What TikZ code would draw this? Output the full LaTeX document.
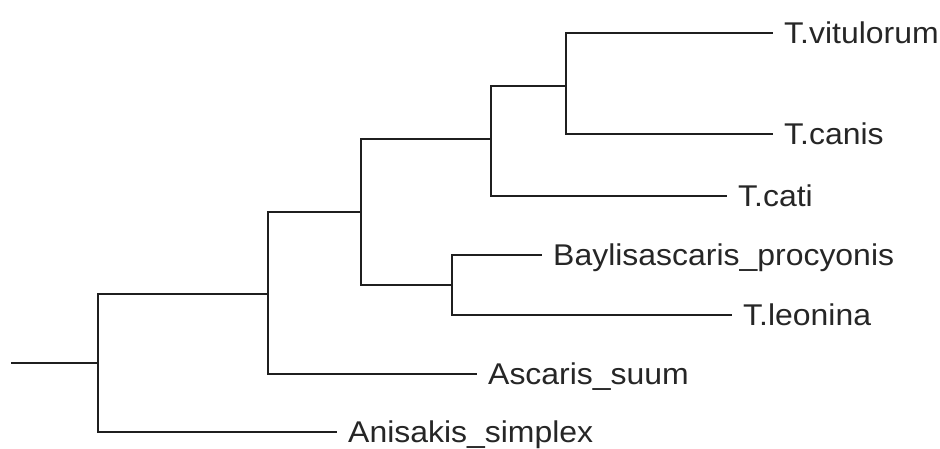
\documentclass[tikz,border=0pt]{standalone}
\usepackage{fontspec}
\setmainfont[FakeStretch=1.065]{Liberation Sans}
\begin{document}
\begin{tikzpicture}[x=1pt,y=-1pt,
  br/.style={draw=black!88,line width=2.8pt,line join=miter},
  leaf/.style={anchor=west,inner xsep=11pt,inner ysep=0pt,text height=21.5pt,text depth=0pt,
    text=black!85,font=\fontsize{30}{36}\selectfont}]
\useasboundingbox (0,0) rectangle (940,448);
% internal nodes
\coordinate (r0) at (11,363);
\coordinate (n1) at (98,363);
\coordinate (n2) at (268,294);
\coordinate (n3) at (361,212);
\coordinate (n4) at (452,285);
\coordinate (n5) at (491,139);
\coordinate (n6) at (566,86);
% leaves
\node[leaf] (vit) at (773,33) {T.vitulorum};
\node[leaf] (can) at (773,134) {T.canis};
\node[leaf] (cat) at (727,196) {T.cati};
\node[leaf] (bay) at (542,255) {Baylisascaris\_procyonis};
\node[leaf] (leo) at (732,315) {T.leonina};
\node[leaf] (asc) at (477,374) {Ascaris\_suum};
\node[leaf] (ani) at (337,432) {Anisakis\_simplex};
% branches
\draw[br] (r0) -- (n1);
\draw[br] (n1) |- (n2);
\draw[br] (n1) |- (ani.west);
\draw[br] (n2) |- (n3);
\draw[br] (n2) |- (asc.west);
\draw[br] (n3) |- (n5);
\draw[br] (n3) |- (n4);
\draw[br] (n4) |- (bay.west);
\draw[br] (n4) |- (leo.west);
\draw[br] (n5) |- (n6);
\draw[br] (n5) |- (cat.west);
\draw[br] (n6) |- (vit.west);
\draw[br] (n6) |- (can.west);
\end{tikzpicture}
\end{document}
